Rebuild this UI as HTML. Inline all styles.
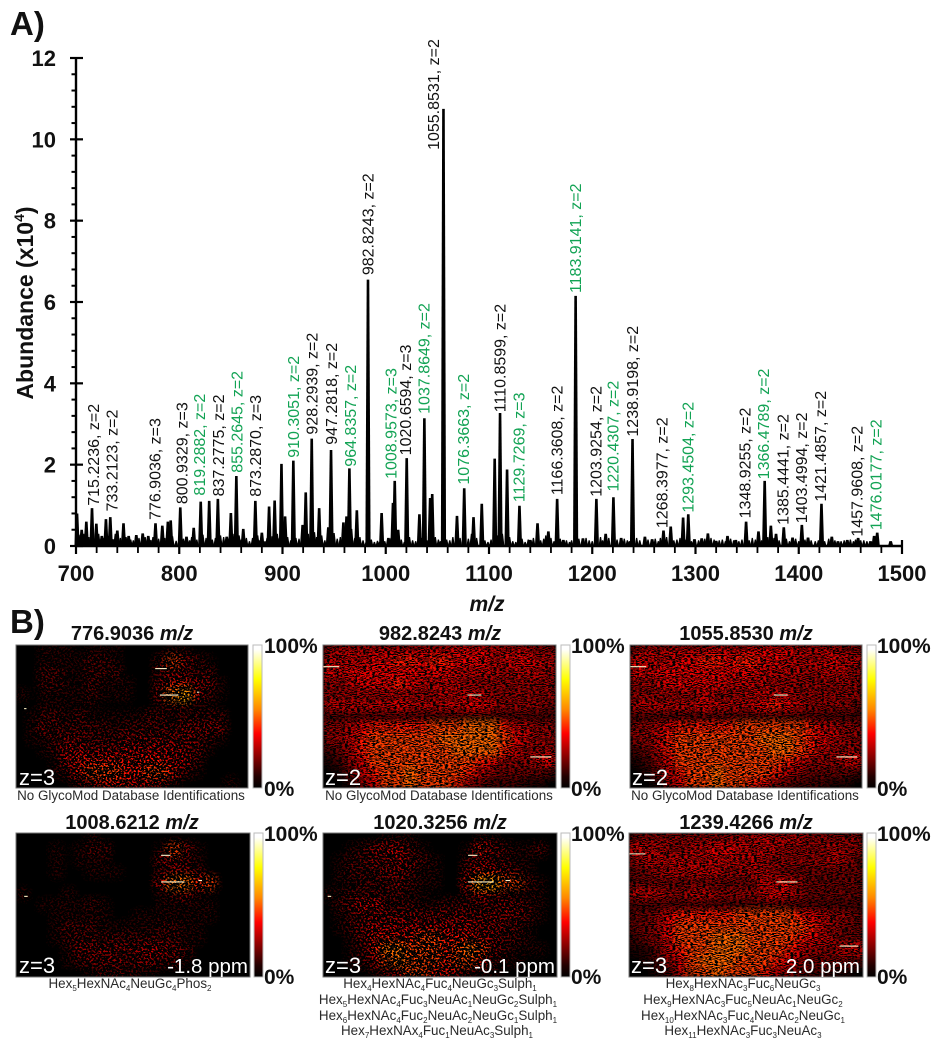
<!DOCTYPE html>
<html lang="en">
<head>
<meta charset="utf-8">
<title>Mass spectrum and ion images</title>
<style>
html,body{margin:0;padding:0;background:#fff}
svg{display:block}
text{font-family:"Liberation Sans",Arial,sans-serif}
.bold{font-weight:bold;fill:#111}
.cap{font-size:13.4px;fill:#2a2a2a;text-anchor:middle}
.sub{font-size:8px}
.ttl{font-size:20px;font-weight:bold;fill:#111;text-anchor:middle}
.pct{font-size:21px;font-weight:bold;fill:#111}
.zl{font-size:22px;fill:#fff}
.ppm{font-size:20.5px;fill:#fff}
</style>
</head>
<body>
<svg id="fig" xmlns="http://www.w3.org/2000/svg" width="936" height="1050" viewBox="0 0 936 1050">
<defs>
<linearGradient id="hotbar" x1="0" y1="1" x2="0" y2="0">
<stop offset="0" stop-color="#000"/><stop offset=".08" stop-color="#200"/><stop offset=".38" stop-color="#f00"/><stop offset=".55" stop-color="#f80"/><stop offset=".76" stop-color="#ff0"/><stop offset=".97" stop-color="#fff"/><stop offset="1" stop-color="#fff"/>
</linearGradient>
<filter id="blurCells" x="-5%" y="-5%" width="110%" height="110%"><feGaussianBlur stdDeviation="3.5"/></filter>
<filter id="speckleSparse" x="0" y="0" width="100%" height="100%" color-interpolation-filters="sRGB">
<feTurbulence type="fractalNoise" baseFrequency="0.5 0.55" numOctaves="2" seed="7"/>
<feColorMatrix type="matrix" values="0 0 0 0 0  0 0 0 0 0  0 0 0 0 0  12 0 0 0 -4.6"/>
</filter>
<filter id="speckleDense" x="0" y="0" width="100%" height="100%" color-interpolation-filters="sRGB">
<feTurbulence type="fractalNoise" baseFrequency="0.33 0.9" numOctaves="2" seed="11"/>
<feColorMatrix type="matrix" values="0 0 0 0 0  0 0 0 0 0  0 0 0 0 0  10 0 0 0 -4.6"/>
</filter>
</defs>

<text class="bold" x="10" y="35" font-size="33">A)</text>
<text class="bold" x="10" y="633" font-size="33">B)</text>
<text class="bold" font-size="23" transform="rotate(-90 33 303)" x="33" y="303" text-anchor="middle">Abundance (x10<tspan font-size="14" dy="-9">4</tspan><tspan dy="9">)</tspan></text>
<text class="bold" font-size="21" font-style="italic" x="487" y="611" text-anchor="middle">m/z</text>

<g id="spectrum"></g>
<g id="axes"></g>
<g id="labels"></g>
<g id="maps"></g>

<g>
<text class="ttl" x="132" y="640">776.9036 <tspan font-style="italic">m/z</tspan></text>
<text class="ttl" x="440" y="640">982.8243 <tspan font-style="italic">m/z</tspan></text>
<text class="ttl" x="746" y="640">1055.8530 <tspan font-style="italic">m/z</tspan></text>
<text class="ttl" x="132" y="829">1008.6212 <tspan font-style="italic">m/z</tspan></text>
<text class="ttl" x="440" y="829">1020.3256 <tspan font-style="italic">m/z</tspan></text>
<text class="ttl" x="746" y="829">1239.4266 <tspan font-style="italic">m/z</tspan></text>
</g>

<g>
<text class="zl" x="19" y="785">z=3</text>
<text class="zl" x="325" y="785">z=2</text>
<text class="zl" x="632" y="785">z=2</text>
<text class="zl" x="19" y="973">z=3</text>
<text class="zl" x="325" y="973">z=3</text>
<text class="zl" x="631" y="973">z=3</text>
<text class="ppm" x="248" y="973" text-anchor="end">-1.8 ppm</text>
<text class="ppm" x="555" y="973" text-anchor="end">-0.1 ppm</text>
<text class="ppm" x="860" y="973" text-anchor="end">2.0 ppm</text>
</g>

<g>
<rect x="253" y="645" width="9" height="143" fill="url(#hotbar)" stroke="#bbb"/>
<rect x="561" y="645" width="9" height="143" fill="url(#hotbar)" stroke="#bbb"/>
<rect x="867" y="645" width="9" height="143" fill="url(#hotbar)" stroke="#bbb"/>
<rect x="254" y="833" width="9" height="144" fill="url(#hotbar)" stroke="#bbb"/>
<rect x="561" y="833" width="9" height="144" fill="url(#hotbar)" stroke="#bbb"/>
<rect x="867" y="833" width="9" height="144" fill="url(#hotbar)" stroke="#bbb"/>
<text class="pct" x="264" y="653">100%</text>
<text class="pct" x="264" y="796">0%</text>
<text class="pct" x="571" y="653">100%</text>
<text class="pct" x="571" y="796">0%</text>
<text class="pct" x="877" y="653">100%</text>
<text class="pct" x="877" y="796">0%</text>
<text class="pct" x="264" y="841">100%</text>
<text class="pct" x="264" y="984">0%</text>
<text class="pct" x="571" y="841">100%</text>
<text class="pct" x="571" y="984">0%</text>
<text class="pct" x="877" y="841">100%</text>
<text class="pct" x="877" y="984">0%</text>
</g>

<g>
<text class="cap" x="131" y="800">No GlycoMod Database Identifications</text>
<text class="cap" x="439" y="800">No GlycoMod Database Identifications</text>
<text class="cap" x="745" y="800">No GlycoMod Database Identifications</text>
<text class="cap" x="130" y="988">Hex<tspan class="sub" dy="3">5</tspan><tspan dy="-3">HexNAc</tspan><tspan class="sub" dy="3">4</tspan><tspan dy="-3">NeuGc</tspan><tspan class="sub" dy="3">4</tspan><tspan dy="-3">Phos</tspan><tspan class="sub" dy="3">2</tspan></text>
<text class="cap" x="440" y="988">Hex<tspan class="sub" dy="3">4</tspan><tspan dy="-3">HexNAc</tspan><tspan class="sub" dy="3">4</tspan><tspan dy="-3">Fuc</tspan><tspan class="sub" dy="3">4</tspan><tspan dy="-3">NeuGc</tspan><tspan class="sub" dy="3">3</tspan><tspan dy="-3">Sulph</tspan><tspan class="sub" dy="3">1</tspan></text>
<text class="cap" x="438" y="1004">Hex<tspan class="sub" dy="3">5</tspan><tspan dy="-3">HexNAc</tspan><tspan class="sub" dy="3">4</tspan><tspan dy="-3">Fuc</tspan><tspan class="sub" dy="3">3</tspan><tspan dy="-3">NeuAc</tspan><tspan class="sub" dy="3">1</tspan><tspan dy="-3">NeuGc</tspan><tspan class="sub" dy="3">2</tspan><tspan dy="-3">Sulph</tspan><tspan class="sub" dy="3">1</tspan></text>
<text class="cap" x="438" y="1020">Hex<tspan class="sub" dy="3">6</tspan><tspan dy="-3">HexNAc</tspan><tspan class="sub" dy="3">4</tspan><tspan dy="-3">Fuc</tspan><tspan class="sub" dy="3">2</tspan><tspan dy="-3">NeuAc</tspan><tspan class="sub" dy="3">2</tspan><tspan dy="-3">NeuGc</tspan><tspan class="sub" dy="3">1</tspan><tspan dy="-3">Sulph</tspan><tspan class="sub" dy="3">1</tspan></text>
<text class="cap" x="437" y="1035">Hex<tspan class="sub" dy="3">7</tspan><tspan dy="-3">HexNAx</tspan><tspan class="sub" dy="3">4</tspan><tspan dy="-3">Fuc</tspan><tspan class="sub" dy="3">1</tspan><tspan dy="-3">NeuAc</tspan><tspan class="sub" dy="3">3</tspan><tspan dy="-3">Sulph</tspan><tspan class="sub" dy="3">1</tspan></text>
<text class="cap" x="743" y="988">Hex<tspan class="sub" dy="3">8</tspan><tspan dy="-3">HexNAc</tspan><tspan class="sub" dy="3">3</tspan><tspan dy="-3">Fuc</tspan><tspan class="sub" dy="3">6</tspan><tspan dy="-3">NeuGc</tspan><tspan class="sub" dy="3">3</tspan></text>
<text class="cap" x="743" y="1004">Hex<tspan class="sub" dy="3">9</tspan><tspan dy="-3">HexNAc</tspan><tspan class="sub" dy="3">3</tspan><tspan dy="-3">Fuc</tspan><tspan class="sub" dy="3">5</tspan><tspan dy="-3">NeuAc</tspan><tspan class="sub" dy="3">1</tspan><tspan dy="-3">NeuGc</tspan><tspan class="sub" dy="3">2</tspan></text>
<text class="cap" x="743" y="1020">Hex<tspan class="sub" dy="3">10</tspan><tspan dy="-3">HexNAc</tspan><tspan class="sub" dy="3">3</tspan><tspan dy="-3">Fuc</tspan><tspan class="sub" dy="3">4</tspan><tspan dy="-3">NeuAc</tspan><tspan class="sub" dy="3">2</tspan><tspan dy="-3">NeuGc</tspan><tspan class="sub" dy="3">1</tspan></text>
<text class="cap" x="743" y="1035">Hex<tspan class="sub" dy="3">11</tspan><tspan dy="-3">HexNAc</tspan><tspan class="sub" dy="3">3</tspan><tspan dy="-3">Fuc</tspan><tspan class="sub" dy="3">3</tspan><tspan dy="-3">NeuAc</tspan><tspan class="sub" dy="3">3</tspan></text>
</g>
</svg>

<script>
// ---- spectrum data (m/z, abundance x10^4) ----
var xTickValues = [700, 800, 900, 1000, 1100, 1200, 1300, 1400, 1500];
var yTickValues = [0, 2, 4, 6, 8, 10, 12];
var peakMz = [701,705.5,710,715.5,719.7,725,729,733.2,740,746,751,758.4,764.6,770,777,783.6,789,791.7,801,807,814,820.8,829,837.4,846,850,855.3,862,873.7,880,887,892.4,899,902.5,910.5,919.5,922.5,928.3,935.5,944.4,947,959,962,964.8,972,982.8,996,1002.6,1007,1008.7,1012,1020.3,1032.6,1037.4,1043,1045,1055.9,1069,1076,1085,1093,1105.5,1110.7,1117.5,1129.5,1140,1147,1157.5,1166,1172,1183.9,1191,1204,1213,1220.5,1228,1239,1251,1258,1269,1276,1288,1293,1299,1306,1312,1320,1331,1339,1349,1361,1367,1373,1378,1385.5,1394,1403,1409,1422,1432,1438,1447,1457.5,1469.5,1473,1476,1489];
var peakAbundance = [0.8,0.4,0.6,0.93,0.55,0.25,0.66,0.71,0.38,0.56,0.25,0.27,0.31,0.25,0.56,0.5,0.6,0.63,0.95,0.23,0.45,1.09,1.11,1.16,0.23,0.81,1.72,0.42,1.11,0.33,0.97,1.12,2.02,0.73,2.1,0.52,1.32,2.64,0.93,0.46,2.36,0.58,0.73,1.91,0.88,6.55,0.81,0.2,1.06,1.6,0.4,2.16,0.78,3.14,1.18,1.28,10.75,0.74,1.42,0.71,1.04,2.15,3.27,1.88,0.99,0.15,0.56,0.36,1.16,0.15,6.15,0.19,1.16,0.3,1.2,0.2,2.63,0.23,0.17,0.38,0.48,0.7,0.78,0.17,0.19,0.31,0.13,0.25,0.15,0.6,0.36,1.6,0.5,0.3,0.46,0.21,0.52,0.21,1.04,0.23,0.12,0.15,0.2,0.12,0.25,0.33,0.12];
var noiseMz = [703,707.5,712.5,717.5,722,727,731,736,738,743,748.5,753,755.5,761,767,772.5,774.5,780,786,793.5,797,804,810,812,817,823,826,832,835,840,843,848,853,858,860,865,868,871,876,878,883,885,890,895,897,905,908,913,916,925,931,933,938,941,950,953,956,967,970,975,978,981,986,989,992,994,999,1005,1010,1015,1018,1023,1026,1029,1035,1040,1048,1051,1053,1059,1062,1065,1072,1080,1083,1088,1096,1099,1102,1108,1113,1120,1123,1126,1132,1135,1138,1143,1150,1153,1155,1160,1163,1169,1175,1178,1180,1187,1194,1197,1200,1208,1210,1216,1224,1231,1234,1236,1243,1246,1254,1261,1264,1266,1272,1279,1282,1285,1291,1296,1303,1309,1315,1318,1323,1326,1329,1334,1337,1342,1345,1352,1355,1358,1364,1370,1376,1381,1388,1391,1397,1400,1406,1412,1416,1419,1425,1429,1435,1441,1444,1450,1453,1455,1460,1463,1466,1479,1483];
var noiseAbundance = [0.28,0.3,0.22,0.18,0.3,0.2,0.25,0.17,0.3,0.2,0.22,0.16,0.14,0.2,0.22,0.15,0.22,0.18,0.2,0.24,0.13,0.18,0.14,0.22,0.16,0.28,0.2,0.16,0.2,0.26,0.22,0.18,0.3,0.26,0.16,0.2,0.12,0.2,0.26,0.14,0.12,0.2,0.24,0.3,0.2,0.22,0.14,0.2,0.18,0.3,0.34,0.22,0.26,0.14,0.32,0.18,0.22,0.42,0.2,0.22,0.14,0.1,0.16,0.1,0.13,0.1,0.12,0.2,0.36,0.16,0.1,0.22,0.14,0.12,0.2,0.14,0.22,0.16,0.12,0.16,0.14,0.22,0.2,0.18,0.3,0.2,0.14,0.1,0.16,0.26,0.3,0.22,0.12,0.1,0.18,0.1,0.16,0.2,0.14,0.18,0.26,0.2,0.12,0.18,0.14,0.1,0.14,0.18,0.2,0.14,0.12,0.22,0.14,0.2,0.16,0.18,0.14,0.12,0.2,0.14,0.16,0.18,0.12,0.2,0.22,0.14,0.16,0.2,0.16,0.12,0.14,0.18,0.2,0.16,0.14,0.16,0.12,0.18,0.14,0.12,0.16,0.14,0.2,0.16,0.14,0.22,0.2,0.14,0.18,0.12,0.18,0.12,0.16,0.14,0.12,0.14,0.12,0.18,0.14,0.12,0.14,0.16,0.12,0.16,0.14,0.14,0.12];
var labelText = ["715.2236, z=2","733.2123, z=2","776.9036, z=3","800.9329, z=3","819.2882, z=2","837.2775, z=2","855.2645, z=2","873.2870, z=3","910.3051, z=2","928.2939, z=2","947.2818, z=2","964.8357, z=2","982.8243, z=2","1008.9573, z=3","1020.6594, z=3","1037.8649, z=2","1055.8531, z=2","1076.3663, z=2","1110.8599, z=2","1129.7269, z=3","1166.3608, z=2","1183.9141, z=2","1203.9254, z=2","1220.4307, z=2","1238.9198, z=2","1268.3977, z=2","1293.4504, z=2","1348.9255, z=2","1366.4789, z=2","1385.4441, z=2","1403.4994, z=2","1421.4857, z=2","1457.9608, z=2","1476.0177, z=2"];
var labelMz = [716.5,734.5,776.5,802.4,819.5,837.9,855.6,873.7,910.5,928.3,947,965.4,982.8,1004.8,1019,1037,1045.8,1075.2,1110.6,1129,1165.6,1183.3,1203.3,1219.8,1238.5,1267.2,1292.4,1347.9,1365.7,1384.4,1402.2,1420.6,1456.1,1474.5];
var labelAbundance = [0.99,0.85,0.64,1.03,1.24,1.22,1.8,1.21,2.17,2.74,2.49,1.95,6.66,1.65,2.23,3.25,9.74,1.51,3.29,1.08,1.25,6.22,1.21,1.34,2.69,0.44,0.82,0.68,1.64,0.52,0.56,1.09,0.23,0.39];
var labelIsGreen = [0,0,0,0,1,0,1,0,1,0,0,1,0,1,0,1,0,1,0,1,0,1,0,1,0,0,1,0,1,0,0,0,0,1];

// ---- ion image intensity (coarse read-out, 0-9, 20 columns x 13 rows) ----
var map776 = [
[0,0,1,1,1,0,1,1,1,0,0,0,0,1,1,0,0,0,0,0],
[0,0,1,1,1,1,2,2,1,0,0,0,2,6,3,2,1,0,0,0],
[0,0,2,2,1,1,2,2,2,0,0,0,2,3,2,2,2,0,0,0],
[0,0,2,2,1,1,2,1,1,1,0,0,3,5,5,3,3,1,0,0],
[1,0,1,1,1,1,2,1,1,1,0,0,3,7,8,4,2,1,0,0],
[0,0,1,1,1,1,1,0,0,0,0,0,1,2,2,1,1,0,0,0],
[0,1,2,2,1,2,1,1,1,1,1,2,2,1,2,2,2,2,0,0],
[0,1,3,2,2,2,2,2,1,2,2,2,2,2,3,3,3,3,0,0],
[0,1,1,2,3,3,2,2,2,3,3,3,3,3,3,3,2,1,0,0],
[0,0,1,2,4,4,3,3,3,4,4,4,4,4,3,3,1,0,0,0],
[0,0,0,1,4,5,5,5,5,5,5,5,5,4,4,2,0,0,0,0],
[0,0,0,1,2,5,6,6,6,5,5,6,6,5,2,1,0,0,0,0],
[0,0,0,0,0,2,3,5,5,5,4,4,3,1,0,0,0,0,1,0]];
var map982 = [
[4,5,5,5,5,5,5,5,5,5,5,6,6,6,5,5,5,5,4,4],
[5,5,5,5,6,6,7,7,6,7,7,6,6,6,5,5,6,6,5,5],
[6,5,6,6,6,6,6,6,6,6,6,5,5,5,5,4,5,5,5,4],
[4,4,5,6,6,6,7,6,5,5,5,5,4,4,4,4,4,4,4,4],
[4,4,4,4,4,4,5,4,4,4,5,5,5,5,4,4,4,4,4,4],
[5,5,5,5,5,5,6,5,5,5,5,5,6,6,5,4,4,4,4,3],
[2,2,2,2,2,2,2,2,2,2,2,2,2,2,2,2,2,2,2,2],
[4,4,5,6,7,7,7,7,7,8,8,8,9,9,9,7,5,5,4,4],
[4,4,5,7,8,8,8,8,8,8,9,9,9,9,9,8,6,5,4,4],
[2,3,5,7,8,8,8,8,8,8,8,9,9,9,9,7,5,4,4,4],
[1,2,4,6,8,8,8,8,8,8,8,8,8,7,6,4,4,4,5,6],
[0,1,3,5,7,8,8,9,8,8,8,8,7,5,4,3,3,3,3,2],
[0,0,1,4,6,8,8,9,8,8,8,7,4,3,2,2,2,1,1,0]];
var map1055 = [
[4,5,5,5,5,5,5,6,5,5,6,6,6,6,5,5,5,5,4,4],
[6,5,5,5,6,6,7,7,6,7,7,6,6,5,5,5,5,6,5,5],
[6,5,6,6,6,6,6,6,6,6,6,5,5,5,5,4,5,5,5,4],
[4,4,5,6,6,6,6,6,5,5,5,5,4,4,4,4,4,4,4,4],
[4,4,4,4,4,4,5,4,4,4,5,5,5,5,4,4,4,4,4,4],
[5,5,5,5,5,5,6,5,5,5,5,6,7,6,5,4,4,4,4,3],
[2,2,2,2,2,2,2,2,2,2,2,2,2,2,2,2,2,2,2,2],
[4,4,5,6,7,7,7,7,7,8,8,8,8,8,8,7,5,5,4,4],
[4,4,5,7,8,8,8,8,8,8,8,9,9,9,8,7,6,5,4,4],
[2,3,5,7,8,8,8,8,8,8,8,8,9,9,8,7,5,4,4,4],
[1,2,4,6,8,8,8,8,8,8,8,8,8,7,6,4,4,4,5,6],
[0,1,3,5,7,8,8,9,8,8,8,8,7,5,4,3,3,3,3,2],
[0,0,1,4,6,8,8,9,8,8,7,6,4,3,2,2,2,1,1,0]];
var map1008 = [
[0,0,0,0,0,0,1,0,0,0,0,0,0,0,0,0,0,0,0,0],
[0,0,0,1,0,1,2,2,0,0,0,0,1,6,3,1,0,0,0,0],
[0,0,0,1,0,1,1,1,0,0,0,0,3,3,2,1,0,0,0,0],
[0,0,0,1,0,0,1,1,1,0,0,0,2,3,3,2,0,0,0,0],
[0,0,0,0,0,0,0,0,0,0,0,0,4,7,7,5,6,0,0,0],
[1,0,0,0,1,0,0,0,0,0,0,0,1,2,3,1,0,0,0,0],
[0,0,1,1,1,1,2,1,0,0,0,0,1,1,1,1,1,0,0,0],
[0,0,0,1,1,1,1,1,0,0,1,1,1,1,1,1,1,0,0,0],
[0,0,0,1,2,2,2,1,1,1,1,1,2,2,1,1,0,0,0,0],
[0,0,0,1,2,2,2,2,2,2,2,2,2,2,1,1,0,0,0,0],
[0,0,0,0,1,3,3,3,3,3,3,4,4,3,2,0,0,0,0,0],
[0,0,0,0,1,2,3,3,3,2,3,3,2,2,1,0,0,0,0,0],
[0,0,0,0,0,0,1,2,2,2,1,1,0,0,0,0,0,0,0,0]];
var map1020 = [
[0,0,0,0,0,1,1,1,0,0,0,0,0,1,1,0,0,0,0,0],
[0,0,1,2,3,4,4,2,1,0,0,0,1,5,3,2,1,1,2,0],
[0,1,2,2,3,3,4,3,2,1,0,0,2,3,2,2,1,1,0,0],
[0,1,2,2,2,3,3,2,1,1,0,0,3,5,4,3,2,1,0,0],
[0,1,1,2,2,2,3,2,1,1,0,0,5,8,8,6,6,2,1,0],
[1,1,2,2,2,2,2,1,1,0,0,0,2,4,3,2,1,1,1,0],
[0,2,3,4,4,2,2,2,1,1,2,2,2,2,2,3,3,2,1,0],
[0,1,2,3,3,3,3,3,3,3,3,3,3,3,3,3,3,2,1,0],
[0,1,2,3,4,4,4,4,4,4,4,4,4,3,3,3,2,1,0,0],
[0,0,1,3,5,5,5,5,6,6,5,5,5,4,3,2,2,1,0,0],
[0,0,1,2,5,7,7,6,6,6,5,6,7,6,3,2,1,1,1,0],
[0,0,1,2,4,6,7,6,6,6,5,6,6,4,2,1,1,0,0,0],
[0,0,0,0,1,3,4,6,6,5,5,3,2,1,1,0,0,0,0,0]];
var map1239 = [
[3,4,4,4,4,4,4,4,4,5,5,5,5,5,5,4,4,4,4,4],
[6,5,5,4,4,5,5,6,6,5,5,5,5,4,4,4,4,5,4,4],
[4,5,5,5,5,5,5,5,5,5,5,4,4,4,4,4,4,5,4,3],
[3,3,4,5,5,5,5,5,4,4,5,5,4,3,3,3,3,3,3,3],
[3,3,3,3,3,3,3,3,3,3,3,5,5,6,4,3,3,3,3,3],
[5,5,5,4,4,5,5,4,4,4,4,5,6,5,4,3,3,3,3,3],
[2,2,2,2,2,2,2,2,2,2,2,2,2,2,2,2,2,2,2,2],
[3,3,4,6,7,7,7,7,7,8,8,8,8,8,7,6,5,4,4,3],
[3,3,4,6,8,8,8,8,8,8,8,8,8,8,8,7,5,4,3,3],
[2,3,4,6,8,8,8,9,9,9,8,8,8,8,7,6,5,4,3,3],
[1,1,3,5,7,8,8,9,9,9,8,8,8,7,6,4,4,4,5,6],
[0,1,2,4,6,8,9,9,9,8,8,8,7,6,4,3,3,3,3,2],
[0,0,1,2,5,8,8,9,8,8,8,7,5,4,3,2,2,1,1,0]];
// [row fraction, start fraction, end fraction] of saturated horizontal streaks
var streaks776 = [[0.165,0.6,0.65],[0.35,0.62,0.7],[0.33,0.78,0.79],[0.445,0.035,0.045]];
var streaks982 = [[0.152,0,0.07],[0.783,0.89,0.98],[0.35,0.62,0.68]];
var streaks1055 = [[0.152,0,0.07],[0.783,0.89,0.98],[0.35,0.62,0.68]];
var streaks1008 = [[0.155,0.62,0.66],[0.34,0.62,0.72],[0.33,0.78,0.795],[0.44,0.035,0.05]];
var streaks1020 = [[0.155,0.62,0.66],[0.34,0.62,0.73],[0.33,0.78,0.8],[0.44,0.02,0.035]];
var streaks1239 = [[0.145,0,0.07],[0.34,0.63,0.72],[0.785,0.9,0.98]];

var NS = 'http://www.w3.org/2000/svg';
var X0 = 76, X1 = 902, Y0 = 546, Y1 = 58;
function xScale(mz){ return X0 + (mz - 700) * (X1 - X0) / 800; }
function yScale(a){ return Y0 - a * (Y0 - Y1) / 12; }
function svgEl(tag, parent){ var e = document.createElementNS(NS, tag); parent.appendChild(e); return e; }
function hot(t){
  var r = Math.min(1, t / 0.4), g = Math.max(0, Math.min(1, (t - 0.4) / 0.4)), b = Math.max(0, Math.min(1, (t - 0.8) / 0.2));
  return 'rgb(' + Math.round(r * 255) + ',' + Math.round(g * 255) + ',' + Math.round(b * 255) + ')';
}

// spectrum marks
var spec = document.getElementById('spectrum');
function drawMark(mz, a, halfTop, halfBase){
  var p = svgEl('path', spec);
  
  
  var x = xScale(mz), y = yScale(a);
  p.setAttribute('d', 'M' + (x - halfBase) + ' ' + Y0 + 'L' + (x - halfTop) + ' ' + y + 'L' + (x + halfTop) + ' ' + y + 'L' + (x + halfBase) + ' ' + Y0 + 'Z');
  p.setAttribute('fill', '#000');
}
noiseMz.forEach(function(m, i){ drawMark(m, noiseAbundance[i], 0.6, 2); });
peakMz.forEach(function(m, i){ drawMark(m, peakAbundance[i], 1.3, 2.6); });

// axes
var ax = document.getElementById('axes');
function axLine(x1, y1, x2, y2, w, name){
  var l = svgEl('line', ax);
  
  
  l.setAttribute('x1', x1); l.setAttribute('y1', y1); l.setAttribute('x2', x2); l.setAttribute('y2', y2);
  l.setAttribute('stroke', '#000'); l.setAttribute('stroke-width', w);
}
axLine(X0, Y1 - 1, X0, Y0 + 1, 2.4, 'y-axis-line');
axLine(X0, Y0, X1 + 1, Y0, 2.4, 'x-axis-line');
yTickValues.forEach(function(v){
  axLine(70, yScale(v), 83, yScale(v), 2.2, 'y-major-tick');
  if (v < 12) { [0.4, 0.8, 1.2, 1.6].forEach(function(d){ axLine(71.5, yScale(v + d), 76, yScale(v + d), 2, 'y-minor-tick'); }); }
  var t = svgEl('text', ax);
  
  
  t.setAttribute('x', 56); t.setAttribute('y', yScale(v) + 8);
  t.setAttribute('text-anchor', 'end'); t.setAttribute('class', 'bold'); t.setAttribute('font-size', '22');
  t.textContent = v;
});
xTickValues.forEach(function(v){
  axLine(xScale(v), v === 1500 ? 540 : 546, xScale(v), 554, 2.2, 'x-major-tick');
  if (v < 1500) { [20, 40, 60, 80].forEach(function(d){ axLine(xScale(v + d), 546, xScale(v + d), 553, 1.8, 'x-minor-tick'); }); }
  var t = svgEl('text', ax);
  
  
  t.setAttribute('x', xScale(v)); t.setAttribute('y', 581);
  t.setAttribute('text-anchor', 'middle'); t.setAttribute('class', 'bold'); t.setAttribute('font-size', '22');
  t.textContent = v;
});

// peak labels
var lg = document.getElementById('labels');
labelText.forEach(function(s, i){
  var t = svgEl('text', lg);
  
  
  var x = xScale(labelMz[i]), y = yScale(labelAbundance[i]);
  t.setAttribute('x', x); t.setAttribute('y', y);
  t.setAttribute('dy', '0.36em');
  t.setAttribute('transform', 'rotate(-90 ' + x + ' ' + y + ')');
  t.setAttribute('font-size', '16');
  t.setAttribute('fill', labelIsGreen[i] ? '#12a354' : '#111');
  t.textContent = s;
});

// ion images
var mapsG = document.getElementById('maps');
function drawMap(grid, streaks, name, x, y, w, h, speckle, gain){
  var g = svgEl('g', mapsG);
  
  
  var clipId = 'clip-' + name;
  var cp = svgEl('clipPath', g);
  cp.setAttribute('id', clipId);
  var cr = svgEl('rect', cp);
  cr.setAttribute('x', x); cr.setAttribute('y', y); cr.setAttribute('width', w); cr.setAttribute('height', h);
  g.setAttribute('clip-path', 'url(#' + clipId + ')');
  var bg = svgEl('rect', g);
  
  
  bg.setAttribute('x', x); bg.setAttribute('y', y); bg.setAttribute('width', w); bg.setAttribute('height', h);
  bg.setAttribute('fill', '#000');
  var cells = svgEl('g', g);
  cells.setAttribute('filter', 'url(#blurCells)');
  var cw = w / grid[0].length, ch = h / grid.length;
  grid.forEach(function(row, r){
    row.forEach(function(v, c){
      var cell = svgEl('rect', cells);
      
      
      cell.setAttribute('x', x + c * cw); cell.setAttribute('y', y + r * ch);
      cell.setAttribute('width', cw + 0.5); cell.setAttribute('height', ch + 0.5);
      cell.setAttribute('fill', hot(v / 9 * gain));
    });
  });
  var ov = svgEl('rect', g);
  
  
  ov.setAttribute('x', x); ov.setAttribute('y', y); ov.setAttribute('width', w); ov.setAttribute('height', h);
  ov.setAttribute('fill', '#000');
  ov.setAttribute('filter', 'url(#' + speckle + ')');
  streaks.forEach(function(s){
    var l = svgEl('line', g);
    
    
    l.setAttribute('x1', x + s[1] * w); l.setAttribute('x2', x + s[2] * w);
    l.setAttribute('y1', y + s[0] * h); l.setAttribute('y2', y + s[0] * h);
    l.setAttribute('stroke', '#fff2c8'); l.setAttribute('stroke-width', '1.1');
  });
  var fr = svgEl('rect', mapsG);
  
  
  fr.setAttribute('x', x); fr.setAttribute('y', y); fr.setAttribute('width', w); fr.setAttribute('height', h);
  fr.setAttribute('fill', 'none'); fr.setAttribute('stroke', '#777'); fr.setAttribute('stroke-width', '1');
}
drawMap(map776, streaks776, 'ion-image-776', 16, 645, 232, 143, 'speckleSparse', 0.75);
drawMap(map982, streaks982, 'ion-image-982', 323, 645, 233, 143, 'speckleDense', 0.56);
drawMap(map1055, streaks1055, 'ion-image-1055', 630, 645, 232, 143, 'speckleDense', 0.56);
drawMap(map1008, streaks1008, 'ion-image-1008', 16, 833, 234, 144, 'speckleSparse', 0.75);
drawMap(map1020, streaks1020, 'ion-image-1020', 323, 833, 234, 144, 'speckleSparse', 0.75);
drawMap(map1239, streaks1239, 'ion-image-1239', 629, 833, 234, 144, 'speckleDense', 0.56);
</script>
</body>
</html>
